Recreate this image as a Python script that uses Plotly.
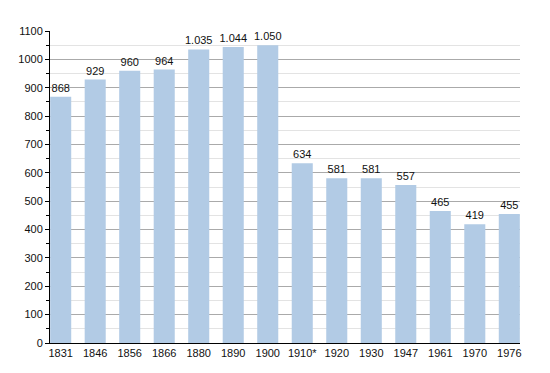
import plotly.graph_objects as go

years = ["1831", "1846", "1856", "1866", "1880", "1890", "1900", "1910*", "1920", "1930", "1947", "1961", "1970", "1976"]
population = [868, 929, 960, 964, 1035, 1044, 1050, 634, 581, 581, 557, 465, 419, 455]
labels = [f"{v:,}".replace(",", ".") for v in population]
y_ticks = list(range(0, 1101, 100))

fig = go.Figure()
fig.add_trace(go.Bar(
    x=years, y=population, text=labels, textposition="outside",
    textfont=dict(family="Liberation Sans, Arial", size=11, color="#111"),
    marker=dict(color="#b2cbe5", line=dict(width=0)),
    cliponaxis=False, constraintext="none",
))
# page body has an 8px default margin, so the figure is sized/offset to compensate
fig.update_layout(
    width=534, height=357,
    margin=dict(l=42, r=22, t=23, b=22),
    paper_bgcolor="white", plot_bgcolor="white",
    bargap=0.39,
    showlegend=False,
    font=dict(family="Liberation Sans, Arial", size=11, color="#111"),
)
fig.update_xaxes(
    type="category", range=[-0.31, 13.31], automargin=False,
    showline=True, linecolor="black", linewidth=1,
    ticks="", showgrid=False, tickfont=dict(size=11),
)
fig.update_yaxes(
    range=[0, 1100], tickvals=y_ticks, automargin=False,
    showline=True, linecolor="black", linewidth=1,
    ticks="outside", ticklen=4, tickcolor="black", gridcolor="#aaaaaa", gridwidth=1,
    zeroline=False, tickfont=dict(size=11),
    minor=dict(dtick=50, showgrid=True, gridcolor="#e3e3e3", ticks="outside", ticklen=3, tickcolor="black"),
)
fig.write_html("out.html")
